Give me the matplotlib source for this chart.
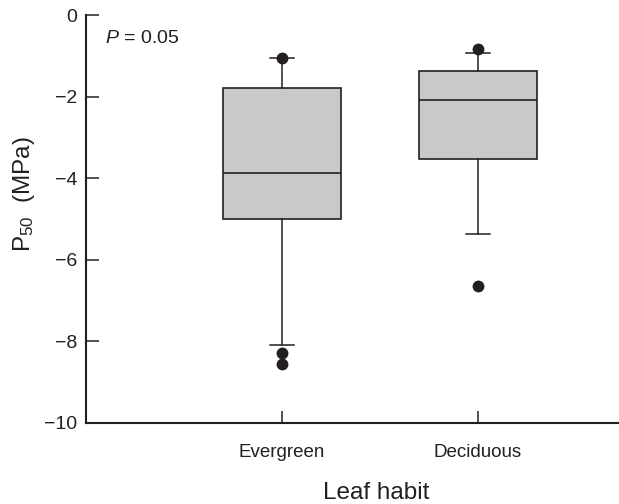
import matplotlib
matplotlib.use('Agg')  # 화면 없이 그리기
import matplotlib.pyplot as plt  # Matplotlib 라이브러리

# 글꼴 설정
plt.rcParams['font.family'] = ['Liberation Sans', 'DejaVu Sans']
plt.rcParams['mathtext.fontset'] = 'custom'
plt.rcParams['mathtext.rm'] = 'Liberation Sans'
plt.rcParams['mathtext.it'] = 'Liberation Sans:italic'
plt.rcParams['mathtext.default'] = 'regular'

# 데이터
categories = ['Evergreen', 'Deciduous']
q1 = [-4.99, -3.53]  # 상자 아래쪽
med = [-3.86, -2.09]  # 중앙값
q3 = [-1.79, -1.38]  # 상자 위쪽
whislo = [-8.08, -5.36]  # 아래 수염 끝
whishi = [-1.05, -0.94]  # 위 수염 끝
fliers = [[-1.05, -8.29, -8.56], [-0.84, -6.64]]  # 점으로 표시된 값
yticks = [0, -2, -4, -6, -8, -10]

dark = '#231f20'  # 선과 글자 색
box_color = '#c8c9cb'  # 상자 채움 색

# 상자그림 통계 만들기
stats = []
for i, name in enumerate(categories):
    stats.append(dict(label=name, q1=q1[i], med=med[i], q3=q3[i],
                      whislo=whislo[i], whishi=whishi[i], fliers=fliers[i]))

fig = plt.figure(figsize=(6.19, 5.04), dpi=100)
ax = fig.add_axes([0.139, 0.161, 0.861, 0.809])

ax.bxp(stats, positions=[1, 2], widths=0.6, capwidths=0.12, patch_artist=True,
       boxprops=dict(facecolor=box_color, edgecolor=dark, linewidth=1.2),
       medianprops=dict(color=dark, linewidth=1.2),
       whiskerprops=dict(color=dark, linewidth=1.1),
       capprops=dict(color=dark, linewidth=1.1),
       flierprops=dict(marker='o', markerfacecolor=dark, markeredgecolor=dark, markersize=7.5))

# 축 설정
ax.set_xlim(0, 2.72)
ax.set_ylim(-10, 0)
ax.set_yticks(yticks)
ax.spines['top'].set_visible(False)
ax.spines['right'].set_visible(False)
for s in ['left', 'bottom']:
    ax.spines[s].set_linewidth(1.5)
    ax.spines[s].set_color(dark)
ax.tick_params(axis='y', direction='in', length=9.5, width=1.1, color=dark,
               labelsize=14, labelcolor=dark, pad=6.5)
ax.tick_params(axis='x', direction='in', length=8.5, width=1.1, color=dark,
               labelsize=13.5, labelcolor=dark, pad=15)

# 축 이름
ax.set_xlabel('Leaf habit', fontsize=17.5, color=dark)
ax.xaxis.set_label_coords(0.545, -0.145)
ax.set_ylabel('P$_{50}$  (MPa)', fontsize=17.5, color=dark)
ax.yaxis.set_label_coords(-0.092, 0.562)

# P 값 표시
ax.text(0.0356, 0.9306, r'$\mathit{P}$ = 0.05', transform=ax.transAxes, fontsize=14,
        color=dark, ha='left', va='baseline')

fig.savefig('out.png', dpi=100)
